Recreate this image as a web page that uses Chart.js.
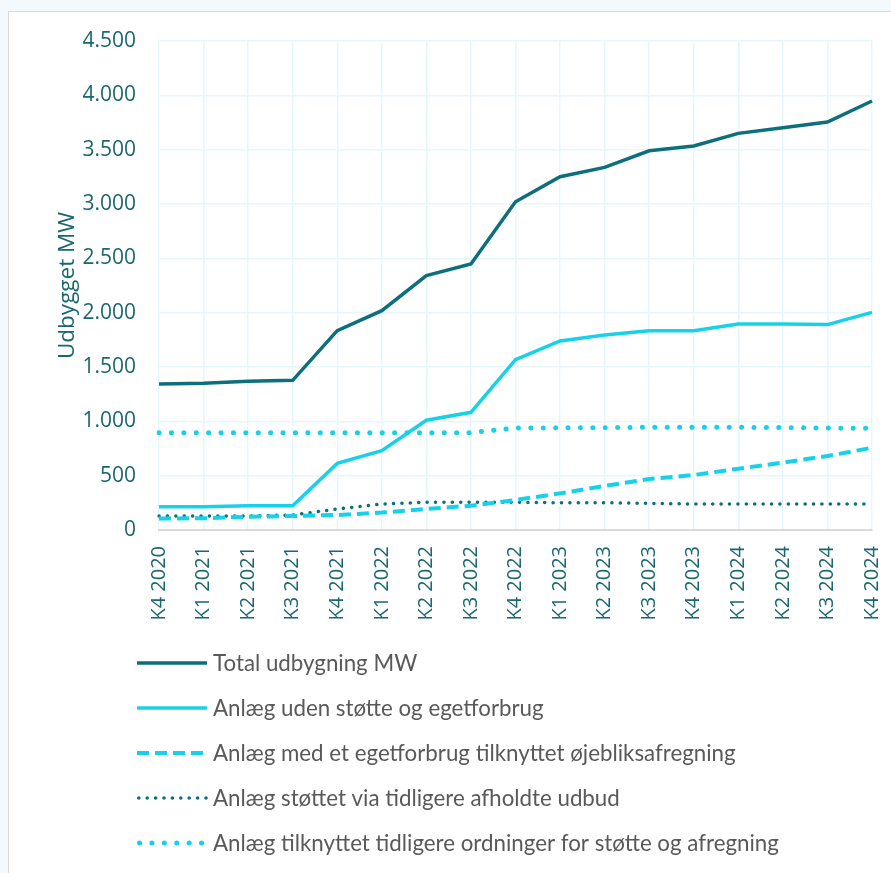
<!DOCTYPE html>
<html lang="da">
<head>
<meta charset="utf-8">
<title>Udbygget MW</title>
<script src="https://cdn.jsdelivr.net/npm/chart.js@4.4.1/dist/chart.umd.min.js"></script>
<style>
  html, body { margin: 0; padding: 0; }
  body { width: 891px; height: 873px; overflow: hidden; background: #f3f9fc; position: relative; }
  .card { position: absolute; left: 8px; top: 11px; width: 920px; height: 900px; background: #fff; border: 1px solid #d9d9d9; }
  #chart { position: absolute; left: 0; top: 0; }
</style>
</head>
<body>
<div class="card"></div>
<canvas id="chart" width="891" height="873"></canvas>
<script>
// kvartaler
const kvartaler = ['K4 2020', 'K1 2021', 'K2 2021', 'K3 2021', 'K4 2021', 'K1 2022', 'K2 2022', 'K3 2022', 'K4 2022',
    'K1 2023', 'K2 2023', 'K3 2023', 'K4 2023', 'K1 2024', 'K2 2024', 'K3 2024', 'K4 2024'];

// MW
const total       = [1343, 1350, 1368, 1377, 1834, 2018, 2342, 2448, 3021, 3251, 3337, 3490, 3534, 3650, 3702, 3754, 3948];
const udenStoette = [215, 215, 224, 224, 613, 730, 1010, 1083, 1568, 1740, 1794, 1834, 1834, 1896, 1896, 1890, 2003];
const egetforbrug = [105, 108, 122, 129, 138, 160, 193, 224, 276, 337, 405, 469, 506, 564, 620, 681, 757];
const udbud       = [129, 129, 129, 138, 193, 239, 255, 255, 255, 251, 251, 245, 239, 239, 239, 239, 239];
const tidligere   = [896, 896, 896, 896, 896, 896, 896, 896, 938, 940, 942, 945, 945, 945, 942, 938, 936];

const yTicks = { min: 0, max: 4500, step: 500 };

const TEAL = '#0d6f7b';
const CYAN = '#17d1ea';
const AXIS_TXT = '#1a6770';

const fmt = v => String(v).replace(/\B(?=(\d{3})+(?!\d))/g, '.');

// legenden står i én kolonne under akserne
const columnLegend = {
    id: 'columnLegend',
    afterDraw(chart) {
        const ctx = chart.ctx;
        const x0 = 137, len = 70, textX = 213, y0 = 663, step = 45;
        ctx.save();
        ctx.font = '22.3px Lato';
        ctx.fillStyle = '#595959';
        ctx.textBaseline = 'middle';
        chart.data.datasets.forEach((ds, i) => {
            const y = y0 + i * step;
            ctx.beginPath();
            ctx.strokeStyle = ds.borderColor;
            ctx.lineWidth = ds.borderWidth;
            ctx.lineCap = ds.borderCapStyle || 'butt';
            ctx.setLineDash(ds.borderDash || []);
            ctx.moveTo(x0 + (ds.borderCapStyle === 'round' ? ds.borderWidth / 2 : 0), y);
            ctx.lineTo(x0 + len, y);
            ctx.stroke();
            ctx.setLineDash([]);
            ctx.fillText(ds.label, textX, y + 1);
        });
        ctx.restore();
    }
};

new Chart(document.getElementById('chart'), {
    type: 'line',
    data: {
        labels: kvartaler,
        datasets: [
            { label: 'Total udbygning MW', data: total, borderColor: TEAL, borderWidth: 3.5 },
            { label: 'Anlæg uden støtte og egetforbrug', data: udenStoette, borderColor: CYAN, borderWidth: 3.5 },
            { label: 'Anlæg med et egetforbrug tilknyttet øjebliksafregning', data: egetforbrug, borderColor: CYAN,
              borderWidth: 4, borderDash: [12, 6] },
            { label: 'Anlæg støttet via tidligere afholdte udbud', data: udbud, borderColor: TEAL,
              borderWidth: 3.5, borderDash: [0.1, 8.3], borderCapStyle: 'round' },
            { label: 'Anlæg tilknyttet tidligere ordninger for støtte og afregning', data: tidligere, borderColor: CYAN,
              borderWidth: 5, borderDash: [0.1, 12.3], borderCapStyle: 'round' }
        ]
    },
    options: {
        responsive: false,
        animation: false,
        devicePixelRatio: 1,
        layout: { padding: { top: 41, right: 19, left: 0, bottom: 0 } },
        elements: { point: { radius: 0, hoverRadius: 0 }, line: { tension: 0, fill: false } },
        plugins: { legend: { display: false }, tooltip: { enabled: false } },
        scales: {
            x: {
                offset: false,
                grid: { color: '#e6f7fc', lineWidth: 1.5, drawTicks: false },
                border: { color: '#d9d9d9', width: 2 },
                ticks: {
                    color: AXIS_TXT, font: { family: 'Open Sans', size: 20 },
                    maxRotation: 90, minRotation: 90, padding: 16, autoSkip: false
                },
                afterFit: s => { s.height = 873 - 530; s.paddingLeft = 0; s.paddingRight = 0; }
            },
            y: {
                min: yTicks.min, max: yTicks.max,
                grid: { color: '#e6f7fc', lineWidth: 1.5, drawTicks: false },
                border: { display: false },
                ticks: {
                    stepSize: yTicks.step, color: AXIS_TXT, padding: 23,
                    font: { family: 'Open Sans', size: 21 },
                    callback: v => fmt(v)
                },
                title: {
                    display: true, text: 'Udbygget MW', color: AXIS_TXT,
                    font: { family: 'Open Sans', size: 22.5 }, padding: { top: 54, bottom: 0 }
                },
                afterFit: s => { s.width = 159; s.paddingTop = 0; s.paddingBottom = 0; }
            }
        }
    },
    plugins: [columnLegend]
});
</script>
</body>
</html>
